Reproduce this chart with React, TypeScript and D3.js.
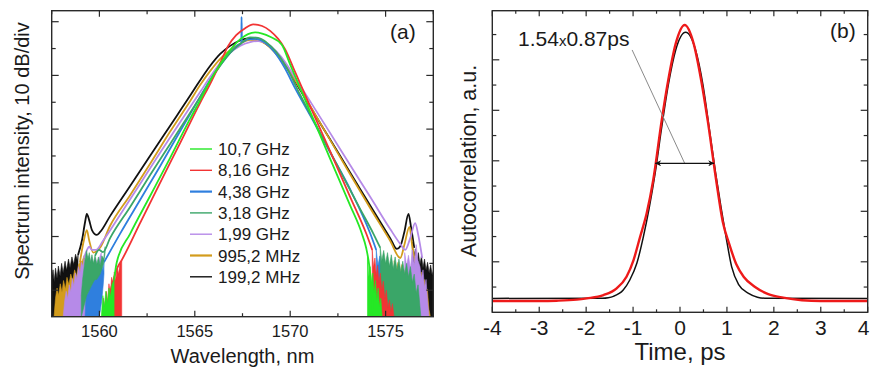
import React from 'react';
import * as d3 from 'd3';

type P = [number, number];
type Band = [number, number, number]; // wavelength, top dB, bottom dB

// ---------- panel (a): optical spectra ----------
const wlMajor = [1560, 1565, 1570, 1575];
const wlMinor = [1557.5, 1562.5, 1567.5, 1572.5, 1577.5];
const dbMajor = [0, -10, -20, -30, -40, -50];
const dbMinor = [-5, -15, -25, -35, -45];

const legendLabels = ['10,7 GHz', '8,16 GHz', '4,38 GHz', '3,18 GHz', '1,99 GHz', '995,2 MHz', '199,2 MHz'];
const legendColors = ['#25e825', '#f23434', '#2f7fde', '#3aa668', '#b68ae8', '#d39c1c', '#111111'];

// 10,7 GHz
const s107: P[] = [[1560.77,-48.1],[1560.91,-44.8],[1561.61,-39.5],[1562.65,-32.5],[1563.70,-25.4],[1564.75,-18.1],[1565.28,-14.6],[1565.80,-11.0],[1566.33,-7.9],[1566.85,-5.3],[1567.37,-3.3],[1567.79,-2.3],[1568.16,-2.0],[1568.53,-2.2],[1568.95,-2.8],[1569.56,-4.3],[1570.00,-8.0],[1571.04,-16.7],[1572.09,-25.5],[1573.14,-34.2],[1573.75,-39.4],[1573.98,-42.1],[1574.14,-45.3],[1574.25,-49.0],[1574.35,-55]];
const n107: Band[][] = [
  [[1560.10,-55,-55],[1560.18,-51.0,-55],[1560.26,-53.0,-55],[1560.34,-50.2,-55],[1560.42,-52.4,-55],[1560.50,-49.6,-55],[1560.58,-51.2,-55],[1560.66,-48.9,-55],[1560.77,-48.1,-55]],
  [[1574.05,-43.5,-55],[1574.12,-47.5,-55],[1574.19,-45.6,-55],[1574.26,-49.2,-55],[1574.33,-46.8,-55],[1574.40,-50.4,-55],[1574.47,-48.2,-55],[1574.54,-51.8,-55],[1574.61,-49.6,-55],[1574.68,-53.0,-55],[1574.75,-51.5,-55],[1574.82,-55,-55]],
];

// 8,16 GHz
const s816: P[] = [[1560.45,-55],[1560.56,-50.9],[1560.66,-49.0],[1560.77,-47.7],[1560.93,-45.9],[1561.17,-44.4],[1562.13,-37.5],[1563.18,-30.0],[1564.23,-22.6],[1565.28,-15.1],[1565.80,-11.6],[1566.33,-7.7],[1566.75,-4.5],[1567.17,-2.5],[1567.64,-1.2],[1568.06,-0.5],[1568.53,-0.8],[1568.95,-1.7],[1569.37,-3.2],[1569.73,-5.1],[1570.26,-9.4],[1571.04,-15.7],[1572.09,-24.1],[1573.14,-32.6],[1573.98,-39.4],[1574.30,-42.5]];
const n816: Band[][] = [
  [[1560.15,-55,-55],[1560.22,-51.5,-55],[1560.29,-53.6,-55],[1560.36,-50.2,-55],[1560.43,-52.3,-55],[1560.50,-48.8,-55],[1560.57,-50.8,-55],[1560.64,-47.6,-55],[1560.71,-49.4,-55],[1560.78,-46.6,-55],[1560.85,-48.2,-55],[1560.93,-45.9,-55],[1561.00,-47.0,-55],[1561.08,-45.0,-55],[1561.17,-44.4,-55]],
  [[1574.30,-42.5,-55],[1574.37,-45.8,-55],[1574.44,-44.0,-55],[1574.51,-47.2,-55],[1574.58,-45.4,-55],[1574.65,-48.6,-55],[1574.72,-46.8,-55],[1574.80,-50.0,-55],[1574.88,-48.3,-55],[1574.96,-51.6,-55],[1575.04,-50.0,-55],[1575.12,-53.2,-55],[1575.20,-51.8,-55],[1575.28,-54.0,-55],[1575.36,-52.5,-55],[1575.44,-55,-55]],
];

// 4,38 GHz
const s438: P[] = [[1560.24,-44.8],[1561.08,-39.5],[1562.13,-33.2],[1563.18,-26.9],[1564.23,-20.4],[1565.28,-14.0],[1565.80,-10.9],[1566.33,-8.1],[1566.85,-5.8],[1567.28,-4.3],[1567.44,-4.0],[1567.45,0.9],[1567.47,-3.8],[1567.79,-3.3],[1568.21,-3.2],[1568.63,-3.8],[1569.16,-5.6],[1569.68,-8.4],[1570.26,-12.4],[1571.04,-17.4],[1572.09,-24.3],[1573.14,-31.2],[1574.19,-39.4],[1574.51,-42.5]];
const n438: Band[][] = [
  [[1559.25,-55,-55],[1559.32,-48.5,-55],[1559.40,-51.0,-55],[1559.48,-47.0,-55],[1559.56,-49.5,-55],[1559.64,-45.8,-55],[1559.72,-48.4,-55],[1559.80,-45.2,-55],[1559.88,-47.6,-55],[1559.96,-44.9,-55],[1560.04,-47.0,-54],[1560.12,-45.0,-52],[1560.20,-46.4,-49],[1560.24,-44.8,-47]],
  [[1574.51,-42.5,-47],[1574.60,-45.4,-50],[1574.70,-43.6,-52],[1574.80,-46.5,-55],[1574.90,-44.6,-55],[1575.00,-47.6,-55],[1575.10,-45.8,-55],[1575.20,-48.8,-55],[1575.30,-47.0,-55],[1575.40,-50.0,-55],[1575.50,-48.2,-55],[1575.60,-51.2,-55],[1575.70,-49.5,-55],[1575.80,-52.4,-55],[1575.90,-50.8,-55],[1576.00,-53.5,-55],[1576.10,-51.6,-55],[1576.20,-54.0,-55],[1576.30,-52.5,-55],[1576.40,-55,-55]],
];

// 3,18 GHz
const s318: P[] = [[1559.77,-43.6],[1559.98,-42.5],[1560.19,-42.9],[1560.56,-40.3],[1561.61,-34.5],[1562.65,-28.6],[1563.70,-22.8],[1564.75,-17.0],[1565.28,-14.0],[1565.80,-11.0],[1566.33,-8.2],[1566.85,-5.8],[1567.37,-4.2],[1567.90,-2.9],[1568.32,-3.0],[1568.74,-3.8],[1569.26,-5.6],[1569.79,-8.4],[1570.52,-13.6],[1571.57,-20.7],[1572.62,-27.8],[1573.67,-34.9],[1574.35,-39.4],[1574.72,-42.1]];
const n318: Band[][] = [
  [[1559.05,-51.0,-55],[1559.12,-48.0,-54],[1559.19,-46.0,-53],[1559.26,-44.0,-52],[1559.33,-42.6,-51],[1559.40,-44.2,-50.5],[1559.47,-43.0,-50],[1559.54,-44.8,-49.5],[1559.61,-43.4,-49],[1559.68,-45.0,-48.5],[1559.77,-43.6,-48],[1559.86,-45.2,-48],[1559.95,-43.8,-47.5],[1560.04,-45.4,-47],[1560.13,-43.6,-46],[1560.22,-44.2,-45],[1560.30,-41.9,-43]],
  [[1574.72,-42.1,-55],[1574.80,-44.5,-55],[1574.90,-42.6,-55],[1575.00,-45.0,-55],[1575.10,-43.0,-55],[1575.20,-45.5,-55],[1575.30,-43.4,-55],[1575.40,-46.0,-55],[1575.50,-43.8,-55],[1575.60,-46.3,-55],[1575.70,-44.2,-55],[1575.80,-46.6,-55],[1575.90,-44.6,-55],[1576.00,-47.0,-55],[1576.10,-45.0,-55],[1576.20,-47.5,-55],[1576.30,-45.6,-55],[1576.40,-48.5,-55],[1576.50,-47.0,-55],[1576.60,-50.5,-55],[1576.70,-49.0,-55],[1576.80,-53.0,-55],[1576.85,-55,-55]],
];

// 1,99 GHz
const s199: P[] = [[1559.19,-44.0],[1559.35,-42.5],[1559.46,-41.9],[1559.61,-42.5],[1559.82,-42.5],[1560.19,-40.8],[1561.08,-36.0],[1562.13,-30.2],[1563.18,-24.4],[1564.23,-18.7],[1565.28,-13.1],[1565.80,-10.3],[1566.33,-7.7],[1566.85,-5.8],[1567.37,-4.5],[1567.90,-3.8],[1568.32,-3.6],[1568.74,-4.0],[1569.26,-5.5],[1569.73,-7.5],[1570.00,-9.0],[1571.04,-14.8],[1572.09,-20.7],[1573.14,-26.7],[1574.19,-32.6],[1575.24,-38.6],[1575.77,-41.4],[1576.03,-42.5],[1576.29,-40.3],[1576.55,-37.5],[1576.71,-39.7],[1576.92,-44.0]];
const n199: Band[][] = [
  [[1558.10,-55,-55],[1558.18,-52.0,-55],[1558.26,-50.2,-55],[1558.34,-51.6,-55],[1558.42,-49.0,-55],[1558.50,-50.3,-55],[1558.58,-47.8,-55],[1558.66,-49.2,-55],[1558.74,-46.8,-55],[1558.82,-48.0,-55],[1558.90,-45.6,-55],[1558.98,-46.8,-55],[1559.06,-44.8,-55],[1559.14,-45.6,-55],[1559.19,-44.0,-55],[1559.30,-45.2,-55],[1559.40,-43.6,-55],[1559.50,-45.0,-55],[1559.60,-43.8,-54],[1559.70,-45.4,-53],[1559.80,-43.9,-52],[1559.90,-45.6,-50],[1560.00,-44.0,-48],[1560.10,-43.0,-45]],
  [[1576.00,-43.0,-48],[1576.10,-45.5,-50],[1576.20,-43.5,-51],[1576.30,-46.0,-52],[1576.40,-42.5,-53],[1576.50,-45.2,-54],[1576.60,-41.5,-55],[1576.70,-44.5,-55],[1576.80,-45.6,-55],[1576.88,-47.8,-55],[1576.96,-46.2,-55],[1577.04,-49.5,-55],[1577.12,-48.0,-55],[1577.20,-52.0,-55],[1577.28,-55,-55]],
];

// 995,2 MHz
const s995: P[] = [[1558.98,-44.75],[1559.19,-40.65],[1559.34,-38.8],[1559.46,-40.65],[1559.68,-43.0],[1560.03,-42.1],[1560.56,-38.0],[1561.61,-32.3],[1562.65,-26.5],[1563.70,-20.5],[1564.75,-14.8],[1565.28,-11.8],[1565.80,-9.2],[1566.33,-6.9],[1566.85,-5.3],[1567.37,-4.1],[1567.90,-3.4],[1568.32,-3.5],[1568.74,-4.2],[1569.26,-6.0],[1569.79,-8.4],[1570.15,-10.3],[1571.05,-15.7],[1572.09,-22.0],[1573.14,-28.4],[1574.19,-34.7],[1575.24,-40.8],[1575.77,-44.0],[1575.98,-41.6],[1576.25,-38.2],[1576.39,-41.6],[1576.55,-44.8]];
const n995: Band[][] = [
  [[1557.62,-55,-55],[1557.70,-51.5,-55],[1557.78,-49.6,-55],[1557.86,-51.0,-55],[1557.95,-48.8,-55],[1558.04,-50.4,-55],[1558.12,-48.2,-55],[1558.22,-49.8,-55],[1558.30,-47.6,-55],[1558.40,-49.0,-55],[1558.50,-47.0,-55],[1558.60,-48.3,-55],[1558.70,-46.2,-55],[1558.80,-47.4,-55],[1558.90,-45.3,-55],[1558.98,-44.75,-55],[1559.10,-44.5,-55],[1559.20,-43.5,-55],[1559.30,-45.0,-55],[1559.40,-44.0,-55],[1559.50,-46.0,-55],[1559.60,-45.0,-55],[1559.70,-47.0,-55],[1559.80,-46.5,-52],[1559.90,-47.5,-50]],
  [[1575.45,-44.5,-49],[1575.55,-46.5,-51],[1575.65,-44.8,-52],[1575.75,-47.5,-53],[1575.85,-45.2,-54],[1575.95,-47.8,-55],[1576.05,-45.6,-55],[1576.15,-48.0,-55],[1576.25,-46.0,-55],[1576.35,-48.6,-55],[1576.45,-45.5,-55],[1576.55,-44.8,-55],[1576.63,-47.0,-55],[1576.71,-45.5,-55],[1576.79,-48.2,-55],[1576.87,-46.6,-55],[1576.95,-49.5,-55],[1577.03,-48.0,-55],[1577.11,-51.0,-55],[1577.19,-49.8,-55],[1577.27,-53.5,-55],[1577.35,-55,-55]],
];

// 199,2 MHz
const s1992: P[] = [[1558.88,-43.45],[1559.09,-40.65],[1559.25,-37.3],[1559.34,-35.8],[1559.46,-36.9],[1559.61,-38.8],[1559.86,-39.7],[1560.03,-39.2],[1560.56,-36.2],[1561.61,-30.6],[1562.65,-25.0],[1563.70,-19.4],[1564.75,-13.8],[1565.28,-10.9],[1565.80,-8.25],[1566.33,-6.0],[1566.85,-4.5],[1567.37,-3.5],[1567.79,-3.1],[1568.21,-3.2],[1568.69,-4.0],[1569.21,-5.6],[1569.73,-8.1],[1570.00,-9.55],[1570.52,-12.7],[1571.57,-18.9],[1572.62,-25.0],[1573.67,-31.2],[1574.72,-37.3],[1575.24,-40.3],[1575.59,-42.3],[1575.77,-41.8],[1575.98,-39.2],[1576.20,-35.8],[1576.34,-38.4],[1576.50,-42.1]];
const n1992: Band[][] = [
  [[1557.50,-47.7,-55],[1557.57,-46.2,-55],[1557.63,-48.4,-55],[1557.70,-45.9,-55],[1557.78,-47.8,-55],[1557.85,-45.5,-55],[1557.94,-47.4,-55],[1558.02,-45.0,-55],[1558.10,-46.8,-55],[1558.20,-44.6,-55],[1558.28,-46.3,-55],[1558.38,-44.2,-55],[1558.46,-45.8,-55],[1558.56,-43.8,-55],[1558.65,-45.2,-55],[1558.75,-43.3,-55],[1558.85,-44.5,-55],[1558.88,-43.45,-55]],
  [[1576.40,-41.0,-46],[1576.48,-43.8,-55],[1576.56,-42.3,-55],[1576.64,-44.6,-55],[1576.72,-43.0,-55],[1576.80,-45.2,-55],[1576.88,-43.6,-55],[1576.96,-45.8,-55],[1577.04,-44.2,-55],[1577.12,-46.3,-55],[1577.20,-44.8,-55],[1577.28,-46.8,-55],[1577.36,-45.3,-55],[1577.44,-47.2,-55],[1577.52,-46.0,-55]],
];

const spectra = [s107, s816, s438, s318, s199, s995, s1992];
const noises = [n107, n816, n438, n318, n199, n995, n1992];
const drawOrder = [6, 5, 4, 2, 3, 1, 0];

// ---------- panel (b): autocorrelation ----------
const tMajor = [-4, -3, -2, -1, 0, 1, 2, 3, 4];
const tMinor = [-3.5, -2.5, -1.5, -0.5, 0.5, 1.5, 2.5, 3.5];
const acMajor = [0.2, 0.4, 0.6, 0.8, 1.0];
const acMinor = [0.1, 0.3, 0.5, 0.7, 0.9, 1.1];

const acMeasured: P[] = [[-4,0.055],[-1.65,0.056],[-1.53,0.058],[-1.42,0.063],[-1.21,0.088],[-1.07,0.128],[-0.92,0.194],[-0.78,0.3],[-0.66,0.41],[-0.53,0.55],[-0.40,0.72],[-0.25,0.9],[-0.09,1.04],[0.12,1.109],[0.33,1.04],[0.49,0.9],[0.63,0.72],[0.76,0.55],[0.88,0.41],[0.98,0.3],[1.10,0.181],[1.25,0.11],[1.46,0.075],[1.65,0.06],[1.81,0.056],[4,0.055]];
const acFit: P[] = [[-4,0.045],[-3,0.045],[-2.63,0.046],[-2.2,0.05],[-1.99,0.055],[-1.63,0.068],[-1.35,0.095],[-1.14,0.141],[-0.99,0.207],[-0.85,0.299],[-0.71,0.392],[-0.57,0.524],[-0.39,0.76],[-0.25,0.92],[-0.09,1.065],[0.1,1.138],[0.29,1.065],[0.45,0.92],[0.59,0.76],[0.77,0.524],[0.91,0.36],[1.05,0.27],[1.2,0.19],[1.36,0.14],[1.6,0.10],[1.88,0.072],[2.2,0.058],[2.6,0.048],[3,0.045],[4,0.045]];
const fwhm = { from: -0.53, to: 0.73, level: 0.59 };
const fwhmLabel = { t: -1.02, v: 1.039 };

const FONT = '"Liberation Sans", Arial, sans-serif';
const INK = '#1a1a1a';
const FRAME = '#2a2a2a';

const A = { l: 51.7, r: 433.3, t: 10.7, b: 316.7 };
const B = { l: 492.3, r: 867.7, t: 10.7, b: 312.3 };

const xA = d3.scaleLinear().domain([1557.5, 1577.5]).range([A.l, A.r]);
const yA = d3.scaleLinear().domain([-54.93, 2.05]).range([A.b, A.t]);
const xB = d3.scaleLinear().domain([-4, 4]).range([B.l, B.r]);
const yB = d3.scaleLinear().domain([0, 1.1945]).range([B.b, B.t]);

const specLine = d3.line<P>().x(d => xA(d[0])).y(d => yA(d[1])).curve(d3.curveMonotoneX);
const noiseArea = d3.area<Band>().x(d => xA(d[0])).y0(d => yA(d[2])).y1(d => yA(d[1]));
const acLine = d3.line<P>().x(d => xB(d[0])).y(d => yB(d[1])).curve(d3.curveMonotoneX);

function Ticks({ box, x, y, xMaj, xMin, yMaj, yMin, xl, yl }: any) {
  const out: any[] = [];
  const add = (k: string, x1: number, y1: number, x2: number, y2: number) =>
    out.push(<line key={k} x1={x1} y1={y1} x2={x2} y2={y2} stroke={FRAME} strokeWidth={1.2} />);
  xMaj.forEach((v: number) => { add('xb' + v, x(v), box.b, x(v), box.b - xl[0]); add('xt' + v, x(v), box.t, x(v), box.t + xl[0]); });
  xMin.forEach((v: number) => { add('xbm' + v, x(v), box.b, x(v), box.b - xl[1]); add('xtm' + v, x(v), box.t, x(v), box.t + xl[1]); });
  yMaj.forEach((v: number) => { add('yl' + v, box.l, y(v), box.l + yl[0], y(v)); add('yr' + v, box.r, y(v), box.r - yl[0], y(v)); });
  yMin.forEach((v: number) => { add('ylm' + v, box.l, y(v), box.l + yl[1], y(v)); add('yrm' + v, box.r, y(v), box.r - yl[1], y(v)); });
  return <g>{out}</g>;
}

export default function App() {
  const lastT = tMajor[tMajor.length - 1];
  return (
    <svg width={870} height={368} style={{ position: 'absolute', left: 0, top: 0, background: '#fff' }} fontFamily={FONT}>
      <defs>
        <clipPath id="clipA"><rect x={A.l} y={A.t} width={A.r - A.l} height={A.b - A.t} /></clipPath>
        <clipPath id="clipB"><rect x={B.l} y={B.t} width={B.r - B.l} height={B.b - B.t} /></clipPath>
        <marker id="arr" viewBox="0 0 10 10" refX="10" refY="5" markerWidth="8" markerHeight="6" orient="auto-start-reverse" markerUnits="userSpaceOnUse">
          <path d="M0,0 L10,5 L0,10 L3,5 Z" fill="#111" />
        </marker>
      </defs>

      {/* ---- panel (a) ---- */}
      <g clipPath="url(#clipA)">
        {drawOrder.map(i => (
          <g key={'s' + i}>
            {noises[i].map((band, j) => (
              <path key={j} d={noiseArea(band) || ''} fill={legendColors[i]} stroke={legendColors[i]} strokeWidth={0.6} />
            ))}
            <path d={specLine(spectra[i]) || ''} fill="none" stroke={legendColors[i]} strokeWidth={1.8} strokeLinejoin="round" />
          </g>
        ))}
      </g>
      <rect x={A.l} y={A.t} width={A.r - A.l} height={A.b - A.t} fill="none" stroke={FRAME} strokeWidth={1.4} />
      <Ticks box={A} x={xA} y={yA} xMaj={wlMajor} xMin={wlMinor} yMaj={dbMajor} yMin={dbMinor} xl={[6, 3.5]} yl={[7, 4]} />
      {wlMajor.map(v => (
        <text key={v} x={xA(v)} y={337} textAnchor="middle" fontSize={16.5} fill={INK}>{v}</text>
      ))}
      <text x={(A.l + A.r) / 2} y={363} textAnchor="middle" fontSize={20} fill={INK}>Wavelength, nm</text>
      <text transform="translate(29,151) rotate(-90)" textAnchor="middle" fontSize={20} fill={INK}>Spectrum intensity, 10 dB/div</text>
      <text x={390} y={39} fontSize={21} fill={INK}>(a)</text>
      {legendLabels.map((lab, i) => {
        const yy = 149 + i * 21.3;
        return (
          <g key={lab}>
            <line x1={190} x2={212} y1={yy} y2={yy} stroke={legendColors[i]} strokeWidth={i === 2 || i === 5 ? 2.2 : 1.4} />
            <text x={218} y={yy} dy="0.36em" fontSize={17} fill={INK}>{lab}</text>
          </g>
        );
      })}

      {/* ---- panel (b) ---- */}
      <g clipPath="url(#clipB)">
        <path d={acLine(acMeasured) || ''} fill="none" stroke="#111" strokeWidth={1.5} />
        <path d={acLine(acFit) || ''} fill="none" stroke="#ee1a1a" strokeWidth={2.4} />
      </g>
      <rect x={B.l} y={B.t} width={B.r - B.l} height={B.b - B.t} fill="none" stroke={FRAME} strokeWidth={1.4} />
      <Ticks box={B} x={xB} y={yB} xMaj={tMajor} xMin={tMinor} yMaj={acMajor} yMin={acMinor} xl={[5.5, 3]} yl={[7, 4]} />
      {tMajor.map(v => (
        <text key={v} x={v === lastT ? 869.5 : xB(v)} y={335} textAnchor={v === lastT ? 'end' : 'middle'} fontSize={21} fill={INK}>
          {v < 0 ? '-' + Math.abs(v) : v}
        </text>
      ))}
      <text x={(B.l + B.r) / 2} y={360} textAnchor="middle" fontSize={24} fill={INK}>Time, ps</text>
      <text transform="translate(476,161) rotate(-90)" textAnchor="middle" fontSize={21.5} fill={INK}>Autocorrelation, a.u.</text>
      <text x={830} y={38} fontSize={21} fill={INK}>(b)</text>

      <line x1={xB(fwhmLabel.t)} y1={yB(fwhmLabel.v)} x2={xB((fwhm.from + fwhm.to) / 2)} y2={yB(fwhm.level)} stroke="#8a8a8a" strokeWidth={1} />
      <line x1={xB(fwhm.from)} x2={xB(fwhm.to)} y1={yB(fwhm.level)} y2={yB(fwhm.level)} stroke="#111" strokeWidth={1.2} markerStart="url(#arr)" markerEnd="url(#arr)" />
      <text x={518} y={45.5} fontSize={21} fill={INK}>1.54<tspan fontSize={15}>x</tspan>0.87ps</text>
    </svg>
  );
}
